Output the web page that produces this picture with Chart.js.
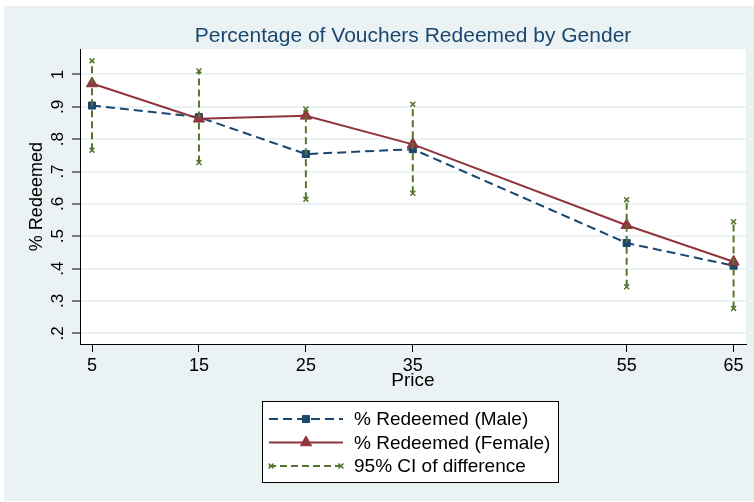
<!DOCTYPE html>
<html><head><meta charset="utf-8">
<script src="https://cdn.jsdelivr.net/npm/chart.js@4.4.1/dist/chart.umd.min.js"></script>
<style>html,body{margin:0;padding:0;background:#fff;} #wrap{width:754px;height:502px;position:relative;}</style>
</head><body><div id="wrap"><canvas id="c" width="754" height="502"></canvas></div>
<script>
const prices = [5, 15, 25, 35, 55, 65];
const maleRedeemed = [0.904, 0.868, 0.754, 0.769, 0.479, 0.409];
const femaleRedeemed = [0.972, 0.863, 0.872, 0.784, 0.534, 0.421];
const ciLower = [0.766, 0.728, 0.614, 0.633, 0.344, 0.277];
const ciUpper = [1.042, 1.011, 0.893, 0.908, 0.613, 0.545];
const xTickValues = [5, 15, 25, 35, 55, 65];
const yTickValues = [0.2, 0.3, 0.4, 0.5, 0.6, 0.7, 0.8, 0.9, 1];
const yTickLabels = ['.2', '.3', '.4', '.5', '.6', '.7', '.8', '.9', '1'];
const seriesLabels = ['% Redeemed (Male)', '% Redeemed (Female)', '95% CI of difference'];

const FONT = '"Liberation Sans", Arial, sans-serif';
const BG = '#EAF2F3';
const NAVY = '#1A476F', MAROON = '#90353B', GREEN = '#55752F';

const ciData = [];
prices.forEach((p, i) => {
  ciData.push({x: p, y: ciLower[i]});
  ciData.push({x: p, y: ciUpper[i]});
  ciData.push({x: p, y: null});
});

const bgPlugin = {
  id: 'bg',
  beforeDraw(chart) {
    const {ctx, chartArea: a} = chart;
    ctx.save();
    ctx.fillStyle = '#fff';
    ctx.fillRect(0, 0, chart.width, chart.height);
    ctx.fillStyle = BG;
    ctx.fillRect(4, 6, chart.width - 4, chart.height - 7);
    ctx.fillStyle = '#fff';
    ctx.fillRect(a.left, a.top, a.right - a.left, a.bottom - a.top);
    ctx.restore();
  }
};

const yLabelPlugin = {
  id: 'yLabels',
  afterDraw(chart) {
    const {ctx} = chart;
    const ys = chart.scales.y;
    ctx.save();
    ctx.fillStyle = '#000';
    ctx.font = '17px ' + FONT;
    ctx.textAlign = 'center';
    ctx.textBaseline = 'middle';
    yTickValues.forEach((v, i) => {
      const py = ys.getPixelForValue(v);
      ctx.save();
      ctx.translate(ys.right - 22, py);
      ctx.rotate(-Math.PI / 2);
      ctx.fillText(yTickLabels[i], 0, 0);
      ctx.restore();
    });
    ctx.restore();
  }
};

const legendPlugin = {
  id: 'boxLegend',
  afterDraw(chart) {
    const {ctx} = chart;
    const bx = 262, by = 401, bw = 296, bh = 81;
    ctx.save();
    ctx.fillStyle = '#fff';
    ctx.fillRect(bx, by, bw, bh);
    ctx.strokeStyle = '#000';
    ctx.lineWidth = 1;
    ctx.strokeRect(bx + 0.5, by + 0.5, bw, bh);
    const rowY = [419, 442.5, 466];
    const x0 = 269, x1 = 343, xm = 306;
    chart.data.datasets.forEach((ds, i) => {
      const y = rowY[i];
      ctx.save();
      ctx.strokeStyle = ds.borderColor;
      ctx.lineWidth = ds.borderWidth;
      ctx.setLineDash(ds.borderDash || []);
      ctx.beginPath();
      ctx.moveTo(x0, y);
      ctx.lineTo(x1, y);
      ctx.stroke();
      ctx.restore();
      const opts = {pointStyle: ds.pointStyle, radius: ds.pointRadius, rotation: 0, borderWidth: ds.pointBorderWidth || 1};
      ctx.save();
      ctx.fillStyle = ds.pointBackgroundColor;
      ctx.strokeStyle = ds.pointBorderColor;
      ctx.lineWidth = opts.borderWidth;
      if (ds.legendEnds) {
        Chart.helpers.drawPoint(ctx, opts, x0 + 2, y);
        Chart.helpers.drawPoint(ctx, opts, x1 - 2, y);
      } else {
        Chart.helpers.drawPoint(ctx, opts, xm, y);
      }
      ctx.restore();
      ctx.fillStyle = '#000';
      ctx.font = '19px ' + FONT;
      ctx.textAlign = 'left';
      ctx.textBaseline = 'middle';
      ctx.fillText(ds.label, 354, y + 1);
    });
    ctx.restore();
  }
};

new Chart(document.getElementById('c'), {
  type: 'line',
  data: {
    datasets: [
      {
        label: seriesLabels[0],
        data: prices.map((p, i) => ({x: p, y: maleRedeemed[i]})),
        borderColor: NAVY, backgroundColor: NAVY, borderWidth: 2, borderDash: [9, 5],
        pointStyle: 'rect', pointRadius: 5, pointBackgroundColor: NAVY, pointBorderColor: NAVY, pointBorderWidth: 1,
        tension: 0, order: 2
      },
      {
        label: seriesLabels[1],
        data: prices.map((p, i) => ({x: p, y: femaleRedeemed[i]})),
        borderColor: MAROON, backgroundColor: MAROON, borderWidth: 2,
        pointStyle: 'triangle', pointRadius: 6.5, pointBackgroundColor: MAROON, pointBorderColor: MAROON, pointBorderWidth: 1,
        tension: 0, order: 1
      },
      {
        label: seriesLabels[2],
        data: ciData,
        borderColor: GREEN, backgroundColor: GREEN, borderWidth: 2, borderDash: [7, 4],
        pointStyle: 'crossRot', pointRadius: 3.5, pointBackgroundColor: GREEN, pointBorderColor: GREEN, pointBorderWidth: 1.5,
        spanGaps: false, tension: 0, order: 0, legendEnds: true
      }
    ]
  },
  options: {
    responsive: false,
    animation: false,
    events: [],
    layout: {padding: {left: 0, right: 8, top: 0, bottom: 108}},
    plugins: {
      legend: {display: false},
      tooltip: {enabled: false},
      title: {
        display: true, fullSize: false,
        text: 'Percentage of Vouchers Redeemed by Gender',
        color: NAVY, font: {family: FONT, size: 21, weight: 'normal'},
        padding: {top: 24, bottom: 0}
      }
    },
    scales: {
      x: {
        type: 'linear', min: 3.876, max: 66.16,
        afterBuildTicks: s => { s.ticks = xTickValues.map(v => ({value: v})); },
        afterFit: s => { s.height = 50; },
        ticks: {color: '#000', font: {family: FONT, size: 18}, padding: 3, maxRotation: 0, autoSkip: false,
          callback: v => String(v)},
        grid: {drawOnChartArea: false, color: '#000', tickLength: 8, lineWidth: 1},
        border: {color: '#000', width: 1},
        title: {display: true, text: 'Price', color: '#000', font: {family: FONT, size: 19}, padding: {top: 0, bottom: 2}}
      },
      y: {
        type: 'linear', min: 0.167, max: 1.078,
        afterBuildTicks: s => { s.ticks = yTickValues.map(v => ({value: v})); },
        afterFit: s => { s.width = 80; },
        ticks: {display: false},
        grid: {color: BG, lineWidth: 2, tickColor: '#000', tickWidth: 1, tickLength: 8},
        border: {color: '#000', width: 1},
        title: {display: true, text: '% Redeemed', color: '#000', font: {family: FONT, size: 18}, padding: {top: 26, bottom: 0}}
      }
    }
  },
  plugins: [bgPlugin, yLabelPlugin, legendPlugin]
});
</script></body></html>
